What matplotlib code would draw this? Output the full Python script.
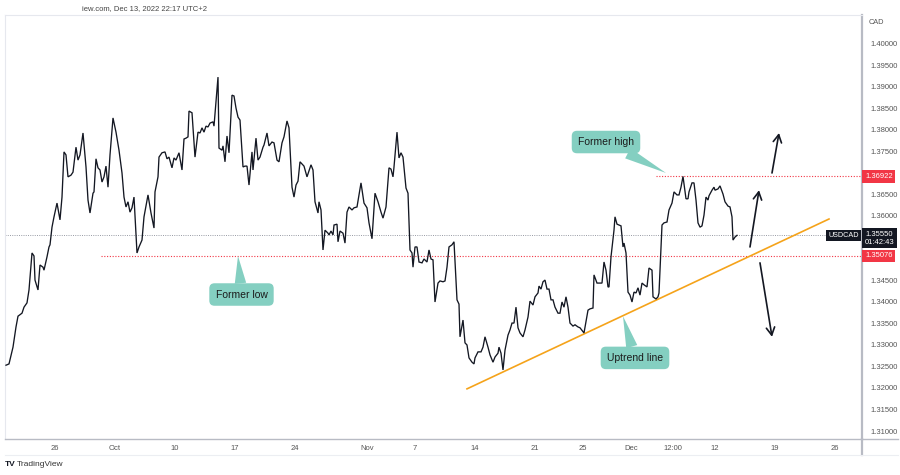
import matplotlib
matplotlib.use("Agg")
import matplotlib.pyplot as plt
import matplotlib.transforms as mtransforms
from matplotlib.lines import Line2D

plt.rcParams['font.family'] = ['Liberation Sans', 'DejaVu Sans']

# ---- data (4H bar index, close price) ----
bars = [-24.5, -23, -21, -19.5, -18.5, -16.5, -15.5, -14, -13, -11.5, -10.5, -10, -8.5, -7.5, -6, -5.5, -4, -3, -2.5, -1.5,
        -0.5, 1, 2.5, 3.5, 4.5, 5.5, 6.5, 8, 9, 10.5, 11.5, 12.5, 14, 15.5, 16.5, 17.5, 19, 19.5, 20.5, 21.5,
        22.5, 23.5, 24.5, 25.5, 26.5, 27.5, 29, 30.5, 32, 33.5, 34.5, 35.5, 36.5, 37.5, 38.5, 39.5, 41, 42, 43.5, 44.5,
        46.5, 48, 49.5, 50, 51.5, 52, 53.5, 55, 56, 57, 58.5, 59.5, 60.5, 62, 63.5, 64.5, 65.5, 66.5, 67, 68.5,
        70, 71.5, 72.5, 73.5, 74.5, 75.5, 76.5, 77.5, 79, 79.5, 81.5, 82, 83.5, 84, 85, 86, 87, 88.5,
        89.5, 90.5, 91.5, 92.5, 94, 95, 96, 97, 98.5, 99, 100.5, 101.5, 102.5, 104, 104.5, 106, 107, 108.5,
        109.5, 111, 112, 113.5, 114.5, 116, 117, 118.5, 119.5, 120.5, 121.5, 122.5, 124.5, 126, 128, 129,
        130, 131.5, 132, 133, 134, 135, 136.5, 137, 138, 139, 139.5, 141, 141.5, 142.5, 144, 145, 146, 147,
        148.5, 149.5, 151, 153, 154.5, 156, 157, 158.5, 160, 161.5, 163, 164, 165.5, 167, 168, 169, 169.5, 171,
        172, 173, 174, 175.5, 176.5, 177.5, 178.5, 179, 180, 181, 182, 183.5, 184.5, 186, 187, 188, 189, 190,
        191.5, 192.5, 194, 195, 196, 197, 198.5, 199.5, 201, 202, 202.5, 204, 205, 206, 207, 208.5, 209.5, 210,
        211.5, 213, 214, 215, 216.5, 217.5, 219, 220, 221.5, 222, 223, 224, 225, 226.5, 227.5, 228.5, 229.5, 230.5,
        231.5, 232.5, 234, 235, 236.5, 237.5, 239, 240, 241.5, 242, 243, 244, 245, 246, 247, 248, 249, 250,
        251.5, 252.5, 253.5, 254.5, 255.5, 256.5, 257.5, 259, 260, 261.5, 262.5, 264.5, 266.5, 267.5, 269, 269.5,
        271, 272, 273.5, 274.5, 275.5, 276.5, 277, 278, 279.5, 280, 281, 282, 283, 284, 284.5, 285.5, 286.5, 287.5,
        288.5, 289.5, 290.5, 291.5, 292.5, 293.5, 294.5, 296, 297, 298.5, 299, 300.5, 301.5, 302, 303.5, 304.5,
        306, 307, 308.5, 309.5, 311, 312, 313, 314, 315.5, 316.5, 317, 318.5, 319.5, 320.5, 321.5, 322.5, 323.5,
        324.5, 325.5, 326.5, 327, 328.5, 329.5, 330, 331.5, 332.5, 334, 335, 336.5, 337.5, 338.5, 339, 340, 341]
closes = [1.3253, 1.3256, 1.3295, 1.3342, 1.3367, 1.3374, 1.3388, 1.3398, 1.3428, 1.3514, 1.3507, 1.3451, 1.3428, 1.3486, 1.3481, 1.3474, 1.3505, 1.3528, 1.3533, 1.3574,
          1.3598, 1.3630, 1.3591, 1.3644, 1.3749, 1.3742, 1.3691, 1.3695, 1.3702, 1.3760, 1.3730, 1.3742, 1.3793, 1.3714, 1.3637, 1.3607, 1.3653, 1.3656, 1.3733, 1.3712,
          1.3707, 1.3679, 1.3691, 1.3716, 1.3667, 1.3742, 1.3828, 1.3795, 1.3753, 1.3700, 1.3644, 1.3621, 1.3633, 1.3609, 1.3619, 1.3644, 1.3514, 1.3528, 1.3544, 1.3598,
          1.3649, 1.3607, 1.3572, 1.3656, 1.3691, 1.3737, 1.3747, 1.3749, 1.3733, 1.3737, 1.3712, 1.3735, 1.3730, 1.3747, 1.3707, 1.3779, 1.3781, 1.3784, 1.3844, 1.3840,
          1.3737, 1.3795, 1.3793, 1.3805, 1.3795, 1.3809, 1.3807, 1.3816, 1.3819, 1.3809, 1.3923, 1.3758, 1.3753, 1.3763, 1.3726, 1.3786, 1.3747, 1.3881,
          1.3879, 1.3851, 1.3830, 1.3823, 1.3714, 1.3716, 1.3716, 1.3672, 1.3749, 1.3707, 1.3781, 1.3730, 1.3737, 1.3760, 1.3765, 1.3793, 1.3763, 1.3772,
          1.3770, 1.3730, 1.3726, 1.3770, 1.3784, 1.3821, 1.3805, 1.3667, 1.3644, 1.3672, 1.3681, 1.3726, 1.3716, 1.3691, 1.3719, 1.3707,
          1.3633, 1.3607, 1.3633, 1.3614, 1.3521, 1.3567, 1.3560, 1.3556, 1.3565, 1.3556, 1.3579, 1.3581, 1.3540, 1.3565, 1.3560, 1.3537, 1.3609, 1.3621,
          1.3614, 1.3619, 1.3621, 1.3677, 1.3630, 1.3619, 1.3584, 1.3547, 1.3653, 1.3633, 1.3609, 1.3595, 1.3621, 1.3712, 1.3709, 1.3691, 1.3714, 1.3795,
          1.3735, 1.3747, 1.3737, 1.3665, 1.3653, 1.3521, 1.3514, 1.3481, 1.3528, 1.3528, 1.3493, 1.3491, 1.3500, 1.3493, 1.3521, 1.3500, 1.3498, 1.3400,
          1.3444, 1.3449, 1.3447, 1.3449, 1.3481, 1.3528, 1.3533, 1.3540, 1.3405, 1.3395, 1.3319, 1.3358, 1.3305, 1.3300, 1.3270, 1.3260, 1.3256, 1.3270,
          1.3284, 1.3284, 1.3295, 1.3319, 1.3295, 1.3277, 1.3260, 1.3272, 1.3281, 1.3295, 1.3281, 1.3242, 1.3288, 1.3323, 1.3335, 1.3351, 1.3351, 1.3388,
          1.3340, 1.3328, 1.3319, 1.3335, 1.3365, 1.3402, 1.3393, 1.3412, 1.3421, 1.3437, 1.3430, 1.3447, 1.3451, 1.3430, 1.3430, 1.3405, 1.3405, 1.3388,
          1.3374, 1.3374, 1.3400, 1.3388, 1.3412, 1.3388, 1.3351, 1.3344, 1.3347, 1.3342, 1.3340, 1.3328, 1.3381, 1.3384, 1.3386, 1.3463,
          1.3444, 1.3444, 1.3444, 1.3493, 1.3474, 1.3435, 1.3435, 1.3505, 1.3567, 1.3598, 1.3581, 1.3579, 1.3577, 1.3528, 1.3537, 1.3514, 1.3423, 1.3416,
          1.3400, 1.3423, 1.3421, 1.3433, 1.3416, 1.3444, 1.3440, 1.3435, 1.3479, 1.3474, 1.3412, 1.3407, 1.3412, 1.3421, 1.3579, 1.3584,
          1.3586, 1.3614, 1.3630, 1.3656, 1.3649, 1.3649, 1.3667, 1.3692, 1.3640, 1.3640, 1.3656, 1.3677, 1.3677, 1.3637, 1.3584, 1.3574, 1.3577,
          1.3602, 1.3644, 1.3637, 1.3647, 1.3660, 1.3667, 1.3660, 1.3663, 1.3670, 1.3651, 1.3633, 1.3623, 1.3621, 1.3598, 1.3544, 1.3551, 1.3555]

date_ticks = [0, 30, 60, 90, 120, 156, 180, 210, 240, 264, 288, 309, 330, 360, 390]
date_labels = ["26", "Oct", "10", "17", "24", "Nov", "7", "14", "21", "25", "Dec", "12:00", "12", "19", "26"]
# visible price scale labels (1.35000, 1.35500, 1.37000 are hidden under the badges)
price_ticks = [1.310, 1.315, 1.320, 1.325, 1.330, 1.335, 1.340, 1.345,
               1.360, 1.365, 1.375, 1.380, 1.385, 1.390, 1.395, 1.400]

last_price = 1.35550
former_high = 1.36922
former_low = 1.35076
trend_bars = [206, 387]
trend_prices = [1.3198, 1.3593]

RED = '#f23645'
TEAL = '#84cfc1'
GRAY = '#555555'

fig = plt.figure(figsize=(9, 4.75), dpi=100)
ax = fig.add_axes([5/900, 36/475, 857/900, 424/475])
ax.set_xlim(-25, 403.5)
ax.set_ylim(1.30814, 1.40674)

ax.plot(bars, closes, color='#131722', lw=0.95, zorder=4, solid_joinstyle='miter')

# level lines
ax.axhline(last_price, color='#8a8e99', lw=0.6, ls=(0, (1.2, 1.5)), zorder=2)
ax.plot([23, 403.5], [former_low, former_low], color=RED, lw=0.8, ls=(0, (1, 1.5)), zorder=3)
ax.plot([300.5, 403.5], [former_high, former_high], color=RED, lw=0.8, ls=(0, (1, 1.5)), zorder=3)

# trend line
ax.plot(trend_bars, trend_prices, color='#f5a31a', lw=1.2, zorder=3)

# arrows
arr = dict(arrowstyle='->,head_length=0.55,head_width=0.3', color='#131722', lw=1.2,
           shrinkA=0, shrinkB=0, mutation_scale=10)
ax.annotate("", xy=(362, 1.3793), xytext=(358.5, 1.3700), arrowprops=arr)
ax.annotate("", xy=(352, 1.3660), xytext=(347.5, 1.3528), arrowprops=arr)
ax.annotate("", xy=(358.5, 1.3319), xytext=(352.5, 1.3491), arrowprops=arr)

# callouts
def callout(text, xy, xytext):
    ax.annotate(text, xy=xy, xytext=xytext, ha='center', va='center', fontsize=7.5,
                color='#1b1b1b', zorder=6,
                bbox=dict(boxstyle='round,pad=0.6,rounding_size=0.5', fc=TEAL, ec='none'),
                arrowprops=dict(arrowstyle='wedge,tail_width=1.1,shrink_factor=0.5', fc=TEAL,
                                ec='none', shrinkA=0, shrinkB=0))

callout("Former high", (305.5, 1.3700), (275.5, 1.3772))
callout("Former low", (91.5, 1.3507), (93.25, 1.34174))
callout("Uptrend line", (284, 1.3367), (290, 1.3270))

# axes styling
for s in ['top', 'left']:
    ax.spines[s].set_color('#e6e8ee')
    ax.spines[s].set_linewidth(0.8)
ax.spines['right'].set_color('#b8bbc4')
ax.spines['right'].set_linewidth(1.6)
ax.spines['bottom'].set_color('#b8bbc4')
ax.spines['bottom'].set_linewidth(1.0)

ax.yaxis.tick_right()
ax.set_yticks(price_ticks)
ax.set_yticklabels([f"{p:.5f}" for p in price_ticks])
ax.tick_params(axis='y', length=0, labelsize=5.5, labelcolor=GRAY, pad=6)
ax.set_xticks(date_ticks)
ax.set_xticklabels(date_labels)
ax.tick_params(axis='x', length=0, labelsize=5.5, labelcolor=GRAY, pad=4)

# right axis badges
tr = mtransforms.blended_transform_factory(ax.transAxes, ax.transData)
ax.text(1.0 + 3/857, former_high, f"{former_high:.5f}", transform=tr, ha='left', va='center',
        fontsize=5.5, color='white', zorder=7,
        bbox=dict(boxstyle='square,pad=0.35', fc=RED, ec='none'))
ax.text(1.0 + 3/857, former_low, f"{former_low:.5f}", transform=tr, ha='left', va='center',
        fontsize=5.5, color='white', zorder=7,
        bbox=dict(boxstyle='square,pad=0.35', fc=RED, ec='none'))
ax.text(1.0 + 3/857, last_price - 0.0007, f"{last_price:.5f}\n01:42:43", transform=tr, ha='left',
        va='center', fontsize=5.5, color='white', zorder=7, linespacing=1.15,
        bbox=dict(boxstyle='square,pad=0.35', fc='#131722', ec='none'))
ax.text(1.0 - 3/857, last_price, "USDCAD", transform=tr, ha='right', va='center',
        fontsize=5.2, color='white', zorder=7,
        bbox=dict(boxstyle='square,pad=0.3', fc='#131722', ec='none'))

# figure texts
fig.text(82/900, 1 - 9/475, "iew.com, Dec 13, 2022 22:17 UTC+2", fontsize=5.5, color='#444444',
         ha='left', va='center')
fig.text(869/900, 1 - 22/475, "CAD", fontsize=5.3, color=GRAY, ha='left', va='center')
fig.text(5/900, 1 - 465/475, "TV", fontsize=6, fontweight='bold', color='#131722', ha='left', va='center')
fig.text(17/900, 1 - 465/475, "TradingView", fontsize=6, color='#333333', ha='left', va='center')
fig.add_artist(Line2D([862/900, 862/900], [1 - 455/475, 1 - 439/475], color='#b8bbc4', lw=1.6))
fig.add_artist(Line2D([862/900, 898/900], [1 - 439/475, 1 - 439/475], color='#b8bbc4', lw=1.0))
fig.add_artist(Line2D([5/900, 898/900], [1 - 455/475, 1 - 455/475], color='#eceef2', lw=0.8))

fig.savefig("out.png", dpi=100, facecolor='white')
